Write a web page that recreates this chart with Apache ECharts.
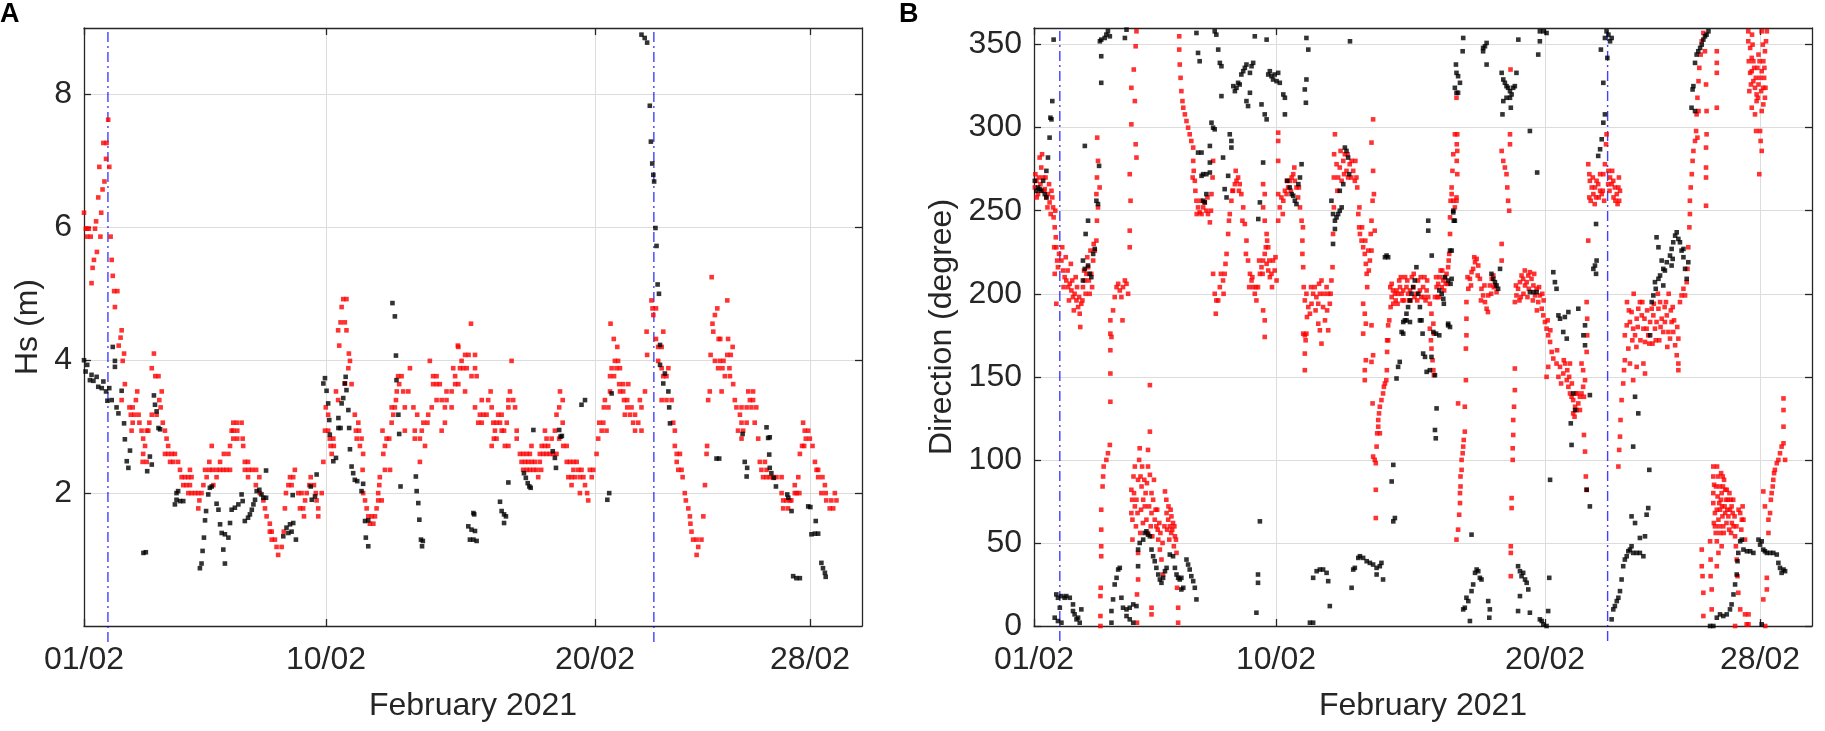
<!DOCTYPE html>
<html><head><meta charset="utf-8">
<script src="https://cdn.jsdelivr.net/npm/echarts@6/dist/echarts.min.js"></script>
<style>html,body{margin:0;padding:0;background:#fff}#c{width:1825px;height:731px}</style>
</head><body><div id="c"></div>
<script>
// x values: days since 01/02/2021 00:00
const dayMax = 28.93;
const tickDays = [0, 9, 19, 27];
const tickLabels = ['01/02', '10/02', '20/02', '28/02'];
const hsTicks = [2, 4, 6, 8];
const dirTicks = [0, 50, 100, 150, 200, 250, 300, 350];
const hsRange = [0, 9];
const dirRange = [0, 360];
const markerDaysA = [0.89, 21.19];
const markerDaysB = [0.96, 21.33];

const hsRed = [[0,6.22],[0.07,5.98],[0.12,5.98],[0.18,5.98],[0.12,5.86],[0.25,5.86],[0.28,5.16],[0.32,5.39],[0.37,5.51],[0.41,5.98],[0.45,6.09],[0.48,5.63],[0.53,6.45],[0.57,6.91],[0.61,5.86],[0.64,6.22],[0.69,6.57],[0.76,6.69],[0.72,7.27],[0.84,7.27],[0.82,7.03],[0.90,7.62],[0.94,6.91],[0.99,5.86],[1.03,5.51],[1.07,5.27],[1.12,5.04],[1.24,5.04],[1.15,4.80],[1.29,4.22],[1.36,4.34],[1.40,4.45],[1.49,4.10],[1.44,3.99],[1.52,3.64],[1.40,3.40],[1.69,3.29],[1.81,3.29],[1.98,3.53],[1.93,3.40],[1.74,3.18],[1.87,3.18],[2.03,3.18],[1.81,3.06],[2.06,3.06],[1.77,2.94],[2.14,2.94],[2.33,2.94],[2.20,2.82],[2.27,2.71],[2.20,2.59],[2.18,2.47],[2.33,2.47],[2.52,3.88],[2.60,4.10],[2.65,3.76],[2.77,3.76],[2.89,3.53],[2.80,3.40],[2.85,3.29],[2.70,3.18],[2.52,3.18],[2.43,3.06],[2.39,2.94],[2.93,3.06],[3.01,2.94],[3.07,2.82],[3.13,2.71],[3.01,2.59],[3.13,2.59],[3.26,2.59],[3.38,2.59],[3.20,2.47],[3.32,2.47],[3.50,2.47],[3.57,2.35],[3.63,2.24],[3.75,2.24],[3.88,2.24],[4.00,2.24],[3.69,2.12],[3.81,2.12],[3.94,2.12],[3.88,2.00],[4.00,2.00],[4.13,2.00],[4.25,2.00],[4.37,2.00],[4.29,1.89],[4.25,1.77],[3.94,2.35],[4.44,2.12],[4.56,2.24],[4.66,2.47],[4.66,2.35],[4.50,2.35],[4.78,2.35],[4.93,2.35],[5.06,2.35],[5.18,2.35],[5.30,2.35],[5.43,2.35],[4.75,2.71],[4.81,2.12],[4.93,2.24],[5.06,2.47],[5.20,2.59],[5.37,2.59],[5.43,2.71],[5.49,2.94],[5.55,3.06],[5.68,3.06],[5.86,3.06],[5.55,2.94],[5.70,2.94],[5.55,2.82],[5.70,2.82],[5.90,2.82],[5.92,2.71],[5.98,2.47],[6.10,2.47],[5.98,2.35],[6.12,2.35],[6.25,2.35],[6.40,2.35],[6.10,2.24],[6.52,2.24],[6.39,2.12],[6.54,2.00],[6.67,1.89],[6.73,1.77],[6.79,1.65],[6.91,1.54],[6.98,1.42],[6.91,1.42],[6.98,1.30],[7.10,1.30],[7.16,1.19],[7.35,1.19],[7.22,1.07],[7.43,1.42],[7.47,1.77],[7.51,2.00],[7.60,2.12],[7.72,2.12],[7.66,2.24],[7.78,2.24],[7.84,2.35],[7.97,2.00],[8.09,2.00],[8.03,1.77],[8.15,1.77],[8.18,1.65],[8.22,1.89],[8.28,2.00],[8.38,2.12],[8.43,2.24],[8.55,2.12],[8.62,2.00],[8.65,1.89],[8.71,1.77],[8.71,1.65],[8.84,2.00],[8.90,2.47],[8.96,2.94],[9.08,2.94],[8.99,3.29],[9.08,3.18],[9.14,2.82],[9.27,2.82],[9.17,2.71],[9.29,2.71],[9.21,2.59],[9.37,3.53],[9.45,3.40],[9.45,4.45],[9.49,4.22],[9.58,4.80],[9.64,4.92],[9.76,4.92],[9.54,4.57],[9.70,4.57],[9.76,4.45],[9.85,4.10],[9.70,3.65],[9.83,3.88],[9.89,3.99],[9.95,3.64],[10.07,3.18],[10.20,3.06],[10.11,2.94],[10.23,2.94],[10.14,2.82],[10.32,2.82],[10.26,2.71],[10.38,2.59],[10.36,2.35],[10.38,2.00],[10.45,1.89],[10.51,1.77],[10.57,1.65],[10.70,1.65],[10.82,1.65],[10.63,1.54],[10.76,1.54],[10.88,1.77],[10.94,1.89],[11.07,1.89],[10.94,2.00],[10.98,2.12],[11.00,2.24],[11.19,2.35],[11.38,2.35],[11.13,2.59],[11.19,2.71],[11.25,2.82],[11.35,2.82],[11.10,2.94],[11.44,3.06],[11.50,3.18],[11.44,3.29],[11.56,3.29],[11.60,3.40],[11.63,3.53],[11.68,3.76],[11.81,3.76],[11.72,3.64],[11.87,3.53],[12.06,3.53],[11.93,3.29],[12.25,3.29],[11.93,2.94],[12.12,3.88],[12.30,2.82],[12.49,2.82],[12.39,3.18],[12.30,2.94],[12.56,2.94],[12.49,2.47],[12.62,3.06],[12.77,3.06],[12.68,2.71],[12.80,3.18],[12.86,3.99],[12.93,3.29],[12.98,3.64],[13.11,3.64],[13.23,3.64],[12.98,3.76],[13.11,3.76],[13.11,3.40],[13.30,3.40],[13.30,2.94],[13.42,3.06],[13.42,3.29],[13.67,3.29],[13.48,3.40],[13.48,3.53],[13.67,3.53],[13.73,3.88],[13.80,3.64],[13.92,3.64],[13.80,3.76],[13.98,3.88],[14.10,3.88],[14.23,3.88],[14.04,3.99],[14.17,3.53],[14.41,3.76],[14.54,3.88],[14.60,3.76],[14.39,4.55],[13.92,4.20],[14.17,4.08],[14.30,4.08],[14.54,4.08],[13.90,4.22],
[14.54,3.29],[14.66,3.06],[14.79,3.06],[14.72,3.18],[14.85,3.18],[14.97,3.18],[14.79,3.40],[15.03,3.40],[15.12,3.53],[15.16,3.29],[15.22,3.06],[15.16,2.71],[15.24,2.82],[15.34,2.82],[15.28,2.94],[15.40,3.18],[15.53,3.18],[15.34,3.06],[15.47,3.06],[15.53,2.94],[15.62,2.94],[15.65,2.71],[15.78,2.71],[15.72,3.06],[15.78,3.29],[15.78,3.40],[15.96,3.40],[15.84,3.53],[15.90,3.99],[16.03,3.29],[16.09,2.94],[16.09,2.82],
[16.21,2.59],[16.33,2.59],[16.46,2.59],[16.58,2.59],[16.27,2.47],[16.40,2.47],[16.52,2.47],[16.65,2.47],[16.77,2.47],[16.95,2.47],[16.33,2.35],[16.46,2.35],[16.58,2.35],[16.71,2.35],[16.83,2.35],[17.00,2.35],[16.64,2.71],[16.89,2.24],[17.02,2.71],[17.14,2.71],[17.26,2.71],[16.95,2.59],[17.08,2.59],[17.20,2.59],[17.32,2.59],[17.45,2.59],[17.57,2.59],[17.14,2.94],[17.20,2.82],[17.39,2.82],[17.51,2.94],[17.57,3.18],[17.67,3.29],[17.70,3.53],[17.80,3.40],[17.80,3.06],[17.67,2.82],[17.82,2.71],[17.95,2.71],[17.95,2.47],[18.07,2.47],[18.20,2.47],[18.32,2.47],[18.20,2.35],[18.38,2.35],[18.01,2.24],[18.13,2.24],[18.26,2.24],[18.13,2.12],[18.44,2.24],[18.57,2.24],[18.50,2.35],[18.44,2.00],[18.63,2.12],[18.71,2.00],[18.75,1.89],[18.81,2.35],[18.94,2.35],[18.88,2.24],[19.06,2.59],[19.12,2.82],[19.16,3.06],[19.31,3.06],[19.25,2.94],[19.43,2.94],[19.33,3.29],[19.50,3.29],[19.37,3.40],[19.56,3.53],[19.56,3.76],[19.71,3.76],[19.62,3.88],[19.74,3.99],[19.86,3.99],[19.80,3.88],[19.93,3.88],[19.90,3.64],[20.05,3.64],[20.24,3.64],[19.93,3.53],[20.05,3.53],[20.08,3.40],[20.20,3.40],[20.20,3.29],[20.36,3.29],[20.11,3.18],[20.30,3.18],[20.49,3.18],[20.42,3.06],[20.61,3.06],[20.49,2.94],[20.73,2.94],[20.67,3.40],[20.73,3.29],[20.86,3.53],
[19.58,4.55],[19.70,4.32],[19.83,4.20],[20.92,4.43],[20.94,4.08],[21.10,4.90],[21.14,4.78],[21.27,4.78],[21.17,4.68],[21.27,4.32],[21.35,4.20],[21.48,4.20],[21.54,4.43],
[21.35,3.99],[21.48,3.88],[21.73,3.88],[21.54,3.76],[21.66,3.76],[21.48,3.40],[21.66,3.40],[21.85,3.40],[21.91,3.06],[21.97,2.94],[21.97,2.71],[22.04,2.59],[22.16,2.59],[22.04,2.47],[22.10,2.35],[22.22,2.35],[22.26,2.24],[22.34,2.00],[22.38,1.89],[22.47,1.77],[22.53,1.65],[22.55,1.54],[22.59,1.42],[22.65,1.30],[22.78,1.30],[22.84,1.19],[22.78,1.07],[22.96,1.30],[23.03,1.65],[23.09,2.12],[23.15,2.59],[23.17,2.71],[23.21,3.40],[23.27,3.53],
[23.46,3.99],[23.64,3.99],[23.78,3.99],[23.58,3.88],[23.74,3.88],[23.71,3.53],[23.83,3.76],[24.02,3.76],[24.00,3.88],[24.14,3.64],[24.20,3.40],[24.26,3.29],[24.45,3.29],[24.39,3.18],[24.32,2.94],[24.51,2.94],[24.45,3.06],[24.64,3.06],[24.45,2.82],[24.70,3.53],[24.88,3.53],[24.64,3.29],[24.82,3.29],[25.00,3.29],[24.76,3.40],[24.88,3.40],[24.94,3.06],[25.07,2.82],[25.13,2.47],[25.32,2.47],[25.19,2.35],[25.38,2.35],[25.25,2.24],[25.38,2.24],[25.50,2.24],[25.63,2.24],[25.75,2.24],[25.94,2.24],[25.94,2.00],[26.00,1.89],[26.12,1.89],[26.25,1.89],[26.00,1.77],[26.18,1.77],[26.30,1.89],[26.43,2.00],[26.43,2.12],[26.50,2.00],[26.60,2.00],[26.56,2.24],[26.62,2.59],[26.70,2.71],[26.78,2.71],[26.74,3.06],[26.80,2.94],[26.93,2.94],[26.84,2.82],[26.99,2.82],[27.09,2.71],[27.18,2.47],[27.24,2.35],[27.30,2.35],[27.30,2.24],[27.46,2.24],[27.55,2.12],[27.42,2.00],[27.58,2.00],[27.60,1.89],[27.79,1.89],[27.98,1.89],[27.73,1.77],[27.86,1.77],[27.92,2.00],
[23.34,5.25],[23.92,4.90],[23.55,4.78],[23.46,4.68],[23.37,4.55],[23.40,4.43],[23.60,4.32],[23.66,4.32],[23.95,4.32],[24.12,4.20],[23.30,4.08],[23.92,4.08],[24.05,4.08]];

const hsBlack = [[0,4.0],[0.06,3.83],[0.12,3.93],[0.22,3.70],[0.28,3.78],[0.35,3.69],[0.47,3.75],[0.53,3.60],[0.66,3.58],[0.72,3.68],[0.82,3.53],[0.87,3.39],[0.94,3.58],[1.07,4.20],[1.15,3.90],[1.15,3.99],[1.03,3.40],[1.21,3.29],[1.28,3.20],[1.40,3.54],[1.49,3.05],[1.52,2.81],[1.71,2.64],[1.59,2.48],[1.65,2.38],[2.21,1.10],[2.30,1.11],[2.35,2.33],[2.45,2.55],[2.52,2.43],[2.60,3.47],[2.64,3.33],[2.70,3.23],[2.77,2.98],[2.83,2.96],[3.38,1.83],[3.44,1.90],[3.57,1.88],[3.69,1.88],[3.44,2.00],[3.50,2.03],[4.31,0.87],[4.37,0.94],[4.41,1.13],[4.46,1.33],[4.50,1.59],[4.54,1.73],[4.62,1.98],[4.68,2.08],[4.75,2.10],[4.93,1.84],[5.00,1.75],[5.06,1.53],[5.12,1.40],[5.24,1.38],[5.37,1.33],[5.18,1.15],[5.24,0.94],[5.43,1.55],[5.49,1.75],[5.61,1.78],[5.74,1.83],[5.86,1.98],[5.90,1.88],[5.98,1.58],[6.10,1.63],[6.17,1.68],[6.24,1.75],[6.30,1.83],[6.36,1.90],[6.42,2.03],[6.52,2.05],[6.60,1.98],[6.67,1.93],[6.77,1.93],[6.77,2.34],[7.41,1.35],[7.53,1.48],[7.66,1.53],[7.78,1.55],[7.60,1.40],[7.72,1.42],[7.76,1.97],[7.88,1.30],[8.43,2.10],[8.47,1.90],[8.59,1.95],[8.65,2.28],[8.90,3.65],[8.96,3.73],[9.02,3.54],[9.08,3.35],[9.12,3.10],[9.14,2.88],[9.27,2.48],[9.37,2.53],[9.46,3.13],[9.46,2.98],[9.54,2.98],[9.58,3.35],[9.64,3.43],[9.70,3.65],[9.76,3.55],[9.73,3.75],[9.83,3.25],[9.86,2.98],[9.89,2.66],[9.95,2.40],[10.01,2.30],[10.07,2.20],[10.16,2.18],[10.32,2.03],[10.38,2.14],[10.45,1.58],[10.57,1.59],[10.48,1.33],[10.57,1.20],[11.47,4.86],[11.56,4.66],[11.60,4.07],[11.62,3.70],[11.69,3.18],[11.72,2.89],[11.77,2.10],[12.34,2.25],[12.37,2.03],[12.43,1.85],[12.47,1.60],[12.53,1.30],[12.60,1.28],[12.57,1.20],[14.29,1.50],[14.41,1.45],[14.54,1.43],[14.35,1.30],[14.48,1.30],[14.60,1.28],[14.48,1.70],[14.51,1.68],[15.47,1.87],[15.53,1.73],[15.62,1.68],[15.69,1.65],[15.62,1.55],[15.78,2.16],[16.36,2.30],[16.43,2.23],[16.50,2.15],[16.56,2.10],[16.61,2.08],[16.71,2.95],[17.43,2.63],[17.51,2.53],[17.55,2.38],[17.67,2.95],[17.72,2.85],[17.77,2.86],[18.50,3.33],[18.63,3.40],[19.46,1.90],[19.53,2.00],[19.62,3.50],[20.73,8.90],[20.85,8.85],[20.94,8.78],[21.04,7.83],[21.08,7.29],[21.13,6.96],[21.17,6.79],[21.20,6.69],[21.25,5.99],[21.29,5.72],[21.33,5.14],[21.38,5.00],[21.42,4.23],[21.42,3.93],[21.60,3.80],[21.54,3.65],[21.73,3.53],[21.76,3.29],[21.79,3.05],[23.52,2.52],[23.62,2.52],[24.49,2.89],[24.57,2.47],[24.66,2.38],[24.64,2.25],[25.38,2.99],[25.44,2.83],[25.50,2.84],[25.48,2.58],[25.50,2.38],[25.56,2.30],[25.65,2.23],[25.73,2.10],[26.15,1.98],[26.19,1.93],[26.31,1.73],[26.37,0.75],[26.49,0.72],[26.62,0.72],[26.93,1.80],[27.01,1.79],[27.05,1.38],[27.18,1.39],[27.30,1.39],[27.21,1.58],[27.42,0.95],[27.48,0.87],[27.55,0.80],[27.58,0.74]];

const dirRed = [[0.03,264],[0.09,268],[0.15,260],[0.21,282],[0.27,276],[0.34,270],[0.40,263],[0.46,258],[0.52,260],[0.58,255],[0.65,262],[0.71,252],[0.73,246],[0.77,240],[0.81,234],[0.83,228],[0.86,220],[0.77,212],[0.83,194],[0.89,216],[0.93,224],[1.02,220],[1.08,214],[1.14,210],[1.20,208],[1.27,204],[1.33,206],[1.39,202],[1.45,198],[1.51,200],[1.58,196],[1.64,192],[1.70,188],[1.76,194],[1.82,204],[1.89,208],[1.95,212],[2.01,216],[2.07,200],[2.13,212],[2.20,220],[2.26,226],[2.32,232],[2.34,244],[2.38,252],[2.32,260],[2.34,270],[2.38,280],[2.35,294],[2.44,264],
[0.05,272],[0.10,258],[0.18,270],[0.24,266],[0.30,284],[0.36,262],[0.43,270],[0.50,252],[0.56,266],[0.62,248],[0.68,258],[0.75,228],[0.79,250],
[1.05,228],[1.10,204],[1.18,222],[1.25,214],[1.30,196],[1.37,218],[1.42,208],[1.48,190],[1.55,210],[1.60,204],[1.68,198],[1.72,180],[1.80,196],[1.86,214],[1.92,200],[1.98,222],[2.04,208],[2.10,226],[2.16,204],[2.22,230],
[2.47,0],[2.47,6],[2.47,18],[2.48,23],[2.50,42],[2.50,48],[2.50,58],[2.50,70],[2.55,84],[2.57,90],[2.59,96],[2.69,100],[2.75,104],[2.82,109],[2.84,135],[2.84,152],[2.84,166],[2.84,176],[2.84,184],
[2.88,174],[2.94,190],[3.00,198],[3.07,204],[3.13,206],[3.19,202],[3.25,198],[3.31,204],[3.38,208],[3.44,206],[3.50,200],[3.56,228],[3.56,238],[3.59,256],[3.56,272],[3.62,302],[3.62,324],[3.71,335],[3.78,349],[3.81,358],[3.75,316],[3.78,290],[3.81,282],[3.29,184],
[3.62,82],[3.62,68],[3.66,64],[3.75,72],[3.81,76],[3.87,88],[3.91,100],[3.93,107],[3.87,44],[3.87,28],[3.83,19],[3.83,2],[3.96,90],[4.00,84],[4.06,76],[4.12,72],[4.18,64],[4.24,56],[4.31,145],[4.31,117],[4.24,106],[4.24,96],[4.31,91],[4.37,80],[4.37,68],[4.43,76],[4.49,64],[4.55,60],[4.62,52],[4.68,46],[4.74,40],[4.80,31],[4.87,81],[4.93,68],[4.99,64],[5.05,60],[5.11,66],[5.17,62],[5.24,54],[5.30,44],[5.32,23],[5.36,11],[5.36,2],[4.37,11],[4.37,7],
[3.70,90],[3.75,96],[3.79,60],[3.66,52],[3.95,56],[4.02,96],[4.10,88],[4.15,80],[4.28,72],[4.46,88],[4.58,70],[4.66,62],[4.92,76],[5.00,72],[5.08,70],[5.14,58],[5.20,48],
[3.65,76],[3.72,80],[3.85,68],[3.98,70],[4.05,62],[4.20,86],[4.34,60],[4.40,54],[4.52,70],[4.60,58],[4.70,56],[4.78,50],[4.85,60],[4.95,58],[5.03,52],[5.10,56],[5.22,60],[5.28,52],
[5.40,355],[5.40,347],[5.42,338],[5.45,330],[5.48,322],[5.52,316],[5.55,312],[5.61,308],[5.67,304],[5.73,300],[5.79,296],[5.85,292],[5.92,288],[5.92,280],[5.94,274],[5.98,268],[6.00,262],[6.04,256],[6.10,252],[6.16,249],[6.23,248],[6.29,252],[6.35,255],[6.41,250],[6.47,248],[6.54,243],[6.60,260],[6.64,270],[6.66,280],[6.66,212],[6.72,200],[6.76,188],[6.78,196],[6.91,204],[7.03,208],[7.09,212],[7.16,224],[7.22,236],[7.28,248],[7.34,256],[7.40,262],[7.47,266],[7.53,268],[7.59,270],[7.65,266],[7.71,260],[7.78,252],[7.84,242],[7.90,232],[7.96,220],[8.03,212],[8.09,208],[8.15,204],[8.21,200],[8.27,196],[8.33,204],[8.40,212],[8.46,216],[8.52,220],[8.58,224],[8.65,218],[8.71,214],[8.77,210],[8.83,212],[8.89,220],[8.95,214],[9.02,208],[9.08,244],[9.08,260],[9.08,280],[9.08,292],[9.08,297],[9.14,252],[9.20,258],[9.27,256],[9.33,262],[9.39,260],[9.45,264],[9.51,268],[9.58,270],[9.64,272],[9.70,268],[9.76,264],[9.82,258],[9.89,252],[9.95,244],[9.98,232],[9.98,224],[10.01,216],[10.03,204],[10.07,196],[10.13,200],[10.20,192],[10.26,188],[10.32,194],[10.38,200],[10.44,204],[10.50,198],[10.57,194],[10.63,200],[10.69,208],[10.75,192],[10.82,184],[10.88,204],[10.94,200],[11.00,194],[11.06,208],[11.10,216],[11.12,236],[11.15,252],[11.15,270],[11.16,284],[11.19,296],[11.25,278],[11.31,270],[11.37,276],[11.44,268],[11.50,280],[11.56,284],[11.62,274],[11.68,270],[11.74,278],[11.81,280],[11.87,274],[11.93,268],[11.99,270],[12.02,264],[12.06,248],[12.09,240],[12.12,236],[12.18,232],[12.24,228],[12.30,224],[12.34,218],[12.37,212],[12.39,204],[12.43,226],[12.49,220],[12.55,226],[12.55,244],[12.59,256],[12.55,291],[12.61,305],[12.61,274],[12.64,260],[12.67,238],[12.24,194],[12.30,188],[12.34,182],[12.24,176],
[5.90,270],[6.05,248],[6.20,256],[6.45,258],[6.58,250],
[6.85,196],[6.95,212],[7.05,200],[7.12,218],[7.25,244],[7.38,262],[7.50,274],[7.62,262],[7.75,244],[7.88,224],[8.00,204],[8.12,210],[8.25,204],[8.37,220],[8.50,212],[8.62,228],[8.75,220],[8.85,204],[8.98,222],
[9.25,248],[9.40,268],[9.55,262],[9.68,276],[9.85,264],[10.00,240],[10.15,186],[10.30,204],[10.47,190],[10.60,206],[10.78,200],[10.90,190],[11.03,200],
[11.28,262],[11.40,286],[11.53,272],[11.66,284],[11.80,270],[11.95,280],[12.10,252],[12.20,240],[12.32,232],[12.45,214],[12.52,236],
[8.52,266],[8.58,260],[8.52,252],[8.58,244],[8.65,236],[8.67,232],[8.71,228],[8.58,184],[8.58,174],[8.52,190],
[10.07,175],[10.07,164],[10.07,154],[10.13,176],[10.57,182],[10.69,170],[10.94,178],[10.01,176],[10.10,172],[10.63,178],
[12.30,148],[12.30,154],[12.34,160],[12.55,181],[12.61,163],[12.55,159],[12.59,134],[12.61,102],[12.67,100],[12.71,98],[12.71,82],[12.71,65],[12.74,108],[12.76,116],[12.80,124],[12.83,128],[12.86,132],[12.92,136],[12.98,140],[13.01,144],[13.05,146],[13.10,148],[13.12,154],[13.13,165],[13.13,172],[13.17,181],[12.80,120],[12.86,116],
[13.17,172],[13.21,184],[13.26,192],[13.30,198],[13.36,194],[13.42,200],[13.48,202],[13.54,200],[13.61,204],[13.67,200],[13.73,202],[13.85,204],[13.91,200],[13.98,202],[14.10,204],[14.22,200],[14.35,202],[14.47,204],[14.60,202],[14.66,198],[14.72,194],[14.78,188],[14.85,182],[14.87,176],[14.91,198],[14.97,204],[15.03,206],[15.09,210],[15.16,204],[15.22,208],[15.28,210],[15.34,212],[15.40,216],[15.44,224],[15.47,236],[15.47,246],[15.49,256],[15.53,264],[15.56,274],[15.59,284],[15.65,296],[15.71,318],[15.71,256],
[14.72,179],[14.76,172],[14.78,167],[14.82,160],[14.85,154],[14.87,151],
[13.30,206],[13.45,196],[13.58,208],[13.70,196],[13.80,210],[13.95,196],[14.05,210],[14.15,198],[14.28,208],[14.40,198],[14.52,210],[14.56,196],[15.00,198],[15.12,214],[15.25,202],[15.38,206],
[13.25,204],[13.35,202],[13.52,194],[13.64,210],[13.76,196],[13.88,208],[14.00,196],[14.12,212],[14.25,196],[14.38,210],[14.50,198],[14.62,208],[14.95,210],[15.06,198],[15.18,214],[15.31,206],[15.42,220],
[15.71,52],[15.77,58],[15.81,67],[15.84,74],[15.84,80],[15.86,84],[15.86,90],[15.90,94],[15.90,100],[15.94,104],[15.96,108],[15.98,112],[16.02,117],[16.02,132],[16.06,148],[15.77,134],
[15.53,260],[15.59,256],[15.65,252],[15.71,258],[15.74,272],[15.74,286],[15.74,296],[15.72,290],[15.72,280],
[16.08,195],[16.15,203],[16.21,209],[16.27,213],[16.33,215],[16.40,219],[16.46,221],[16.52,217],[16.58,209],[16.64,203],[16.70,199],[16.77,195],[16.83,191],[16.89,199],[16.95,205],[17.02,209],[17.08,211],[17.14,205],[17.20,201],[16.08,185],[16.08,175],[16.06,167],
[16.12,210],[16.25,205],[16.37,222],[16.50,211],[16.62,196],[16.75,205],[16.88,189],[17.00,200],[17.10,204],
[17.39,286],[17.45,280],[17.51,276],[17.57,272],[17.60,264],[17.63,256],[17.67,250],[17.70,296],[17.70,290],[17.72,335],[17.39,230],[17.39,220],
[17.88,155],[17.88,142],[17.85,132],[17.82,124],[17.82,115],[17.80,107],[17.80,100],[17.76,77],[17.76,71],[17.73,48],[17.73,44],[17.73,30],
[17.88,195],[17.94,199],[18.00,203],[18.07,207],[18.13,211],[18.19,209],[18.26,205],[18.32,207],[18.38,211],[18.44,213],[18.50,209],[18.57,205],[18.63,199],[18.69,203],[18.75,195],[18.81,199],[18.88,191],[18.94,187],[19.00,183],[19.06,179],[19.12,175],[19.19,171],[19.25,165],[19.31,161],
[18.05,196],[18.20,200],[18.35,198],[18.55,196],[18.70,190],[18.90,200],
[17.92,205],[18.10,198],[18.25,214],[18.40,203],[18.60,212],[18.78,204],[18.95,196],[19.10,184],[19.20,178],
[19.43,158],[19.56,156],[19.68,152],[19.81,148],[19.87,144],[19.93,140],[19.99,138],[20.05,136],[20.12,132],[20.18,130],[20.24,134],[20.30,138],[20.36,140],[20.42,144],[20.49,148],[20.42,154],[20.36,158],[20.45,115],[20.49,105],[20.52,90],[20.55,82],[19.12,156],[19.06,150],[19.83,154],[19.93,158],
[19.50,150],[19.70,160],[20.00,146],[20.20,140],[20.10,126],
[19.45,166],[19.60,146],[19.75,158],[19.90,150],[20.05,128],[20.15,140],[20.30,130],[20.45,138],
[20.55,195],[20.57,185],[20.57,175],[20.55,165],[20.61,232],[20.61,278],[20.65,272],[20.67,268],[20.74,264],[20.80,260],[20.86,264],[20.92,268],[20.98,266],[21.05,262],[21.11,260],[21.17,272],[21.23,278],[21.27,290],[21.29,296],[21.36,274],[21.42,270],[21.48,266],[21.54,268],[21.60,264],[21.67,260],[21.73,264],[21.79,262],
[20.70,256],[20.85,254],[21.00,258],[21.15,262],[21.40,262],[21.55,258],[21.70,254],[21.76,256],
[20.65,258],[20.78,270],[20.90,258],[21.05,272],[21.20,256],[21.35,266],[21.50,274],[21.62,256],[21.75,270],
[21.73,96],[21.76,106],[21.79,114],[21.81,124],[21.85,136],[21.91,146],[21.94,154],[21.97,160],[22.16,158],[22.28,148],[22.41,156],[22.66,158],[22.72,152],[23.96,154],[23.96,158],
[21.97,175],[22.04,181],[22.10,167],[22.16,183],[22.22,189],[22.28,179],[22.35,175],[22.41,185],[22.47,191],[22.53,195],[22.60,187],[22.66,179],[22.72,171],[22.78,179],[22.84,175],[22.91,183],[22.97,191],[23.03,187],[23.09,179],[23.15,183],[23.22,191],[23.28,195],[23.34,185],[23.40,177],[23.46,183],[23.53,187],[23.59,177],[23.65,173],[23.71,183],[23.77,177],[23.84,169],[23.90,163],[23.96,173],[24.02,195],[24.08,199],[24.15,203],[24.21,199],[24.27,207],[24.30,215],[24.33,228],[24.37,240],[24.39,248],[24.39,256],[24.42,264],[24.46,272],[24.49,280],[24.52,286],[24.58,292],[24.62,298],[24.64,308],[24.67,318],[24.71,328],[24.74,336],[24.79,344],[24.83,352],[24.89,357],[24.95,346],[24.99,326],[25.01,310],[25.01,296],[24.99,288],[24.99,276],[24.99,270],[24.99,253],[25.39,346],[25.39,339],[25.39,333],[25.39,312],[24.67,294],[24.71,310],
[22.05,195],[22.30,200],[22.55,172],[22.80,190],[23.00,170],[23.25,172],[23.50,195],[23.75,192],[23.20,200],[22.40,168],[23.60,200],
[22.12,190],[22.25,172],[22.45,180],[22.62,195],[22.70,185],[22.88,170],[23.05,194],[23.12,172],[23.30,180],[23.45,192],[23.55,168],[23.68,190],[23.80,184],[23.92,180],
[26.56,358],[26.56,352],[26.63,348],[26.69,342],[26.69,334],[26.75,328],[26.81,324],[26.87,320],[26.94,326],[27.00,330],[27.06,334],[27.12,340],[27.18,346],[27.22,352],[27.25,358],[27.06,358],[27.12,324],[27.18,318],[27.12,314],[27.06,310],[27.00,298],[27.02,292],[27.06,286],[26.97,272],[26.69,312],[26.81,308],[26.87,316],[26.63,333],[26.75,340],[26.94,344],
[26.60,322],[26.72,350],[26.90,336],[27.15,330],[26.85,298],
[26.58,340],[26.66,326],[26.70,356],[26.78,336],[26.84,330],[26.92,318],[26.98,340],[27.04,322],[27.10,350],[27.16,336],[27.20,324],
[24.83,46],[24.83,36],[24.86,30],[24.89,20],[24.89,6],[25.14,51],[25.16,40],[25.16,30],[25.20,22],[25.20,10],[25.26,96],[25.26,90],[25.29,85],[25.26,80],[25.26,74],[25.32,68],[25.32,60],[25.39,70],[25.45,64],[25.48,60],[25.51,70],[25.54,76],[25.57,80],[25.61,90],[25.66,88],[25.70,82],[25.73,76],[25.78,70],[25.82,66],[25.86,80],[25.91,76],[25.94,72],[25.98,68],[26.01,60],[26.07,54],[26.10,48],[26.13,40],[26.16,30],[26.19,20],[26.26,10],[26.26,68],[26.32,64],[26.35,72],[26.38,64],[26.44,52],[25.39,51],[25.45,44],[25.39,36],[25.63,60],[25.57,48],[26.07,0],[26.57,7],[26.57,1],[27.19,0],[27.12,16],[27.25,22],[27.25,29],[27.12,81],[27.18,72],[27.31,64],[27.31,56],[27.37,68],[27.40,76],[27.43,80],[27.47,84],[27.49,88],[27.52,92],[27.55,94],[27.62,98],[27.68,100],[27.74,104],[27.80,108],[27.87,110],[27.87,120],[27.87,130],[27.87,137],[27.93,100],[26.44,7],[26.50,1],
[25.35,56],[25.42,78],[25.50,84],[25.60,66],[25.68,72],[25.75,62],[25.85,58],[25.95,62],[25.65,56],[25.55,92],
[25.28,62],[25.36,84],[25.44,90],[25.52,56],[25.58,72],[25.62,84],[25.70,68],[25.76,82],[25.80,76],[25.88,70],[25.92,56],[26.00,76],[26.05,66],[26.12,60],[26.20,70],[26.30,58],[25.40,96],[25.48,74]];

const dirBlack = [[0.03,268],[0.09,262],[0.15,264],[0.21,263],[0.27,262],[0.34,268],[0.40,260],[0.46,258],[0.46,274],[0.52,282],[0.58,294],[0.61,306],[0.65,305],[0.68,316],[0.73,353],
[1.89,289],[2.01,244],[1.92,236],[1.82,220],[1.89,215],[2.01,217],[2.07,212],[2.13,210],[2.20,224],[2.26,227],[2.32,256],[2.38,254],[2.42,277],[2.50,343],[2.50,327],[2.45,352],[2.50,353],[2.63,354],[2.69,356],[2.75,358],[2.82,355],[3.38,354],[3.44,359],[1.82,208],
[6.04,357],[6.10,345],[6.16,340],[6.72,358],[6.78,356],[6.85,347],[6.91,339],[6.97,337],[6.97,319],[6.60,303],[6.66,300],[6.72,299],[7.28,296],[7.34,292],[7.34,288],[6.23,285],[6.54,289],[6.29,272],[6.41,272],[6.54,273],[6.54,279],[6.41,260],[6.29,256],[6.35,255],[7.03,282],[7.22,271],[7.09,263],[7.16,258],
[7.41,325],[7.47,322],[7.53,324],[7.59,327],[7.65,326],[7.78,334],[7.84,336],[7.90,338],[8.03,333],[8.09,337],[8.15,339],[7.71,332],[7.90,316],[7.96,313],[8.03,321],[8.21,355],[8.46,314],[8.58,308],[8.65,305],[8.65,353],[8.71,332],[8.77,334],[8.83,331],[8.89,329],[8.95,332],[9.02,328],[9.08,333],[9.14,327],[9.27,320],[9.33,318],[9.33,308],[10.13,354],[10.20,347],[10.13,329],[10.07,323],[10.11,315],[11.75,352],
[6.10,285],[6.23,271],[8.52,279],[8.40,255],[8.34,245],
[9.42,268],[9.51,264],[9.64,259],[9.70,256],[9.76,254],[9.58,260],[9.83,266],[9.89,270],[9.95,278],
[11.06,256],[11.12,248],[11.19,244],[11.25,246],[11.31,248],[11.37,250],[11.44,252],[11.19,239],[11.12,230],[11.37,262],[11.50,266],[11.56,288],[11.62,286],[11.68,282],[11.72,272],
[13.05,222],[13.11,223],[13.17,222],
[14.22,216],[14.16,208],[14.10,204],[14.04,200],[13.98,196],[13.91,192],[13.85,188],[13.79,184],[13.73,176],[14.29,200],[14.35,192],[14.41,184],[14.45,176],
[14.66,244],[14.66,238],[14.79,223],[15.07,202],[15.16,200],[15.22,197],[15.24,194],[15.28,210],[15.40,208],[15.49,206],[15.53,226],[15.59,249],[15.65,244],[15.69,338],[15.71,333],[15.71,321],[15.07,175],[15.40,181],
[0.83,19],[0.89,17],[1.02,18],[1.14,17],[1.20,18],[1.33,17],[0.77,5],[0.89,3],[1.02,2],[0.96,11],[1.45,9],[1.51,7],[1.58,4],[1.64,5],[1.70,2],[1.45,13],[1.76,10],[2.88,2],[2.88,9],[2.94,16],[3.00,25],[3.07,29],[3.13,34],[3.19,35],[3.25,17],[3.31,11],[3.44,10],[3.56,11],[3.69,13],[3.81,12],[3.44,6],[3.56,4],[3.69,2],[3.87,36],[3.87,46],[3.93,50],[4.06,52],[4.12,56],[4.18,57],[4.24,55],[4.31,54],[4.37,46],[4.43,42],[4.49,39],[4.55,35],[4.62,31],[4.68,28],[4.74,26],[4.80,29],[4.87,33],[4.93,35],[5.05,43],[5.17,42],[5.24,35],[5.30,31],[5.36,29],[5.42,28],[5.48,29],[5.55,23],[5.67,40],[5.73,37],[5.79,34],[5.85,30],[5.92,27],[5.98,23],[6.04,16],[5.48,22],
[8.40,63],[8.33,31],[8.33,26],[8.27,8],[10.26,2],[10.38,2],[10.38,29],[10.51,33],[10.63,34],[10.75,34],[10.88,32],[10.94,27],[11.00,12],[11.81,23],[11.87,34],[11.93,35],[12.06,41],[12.12,42],[12.24,41],[12.37,39],[12.49,38],[12.61,37],[12.74,35],[12.86,36],[12.92,38],[12.74,31],[12.98,28],
[13.30,87],[13.36,97],[13.36,63],[13.42,65],[13.48,149],[13.54,156],[13.60,159],[13.67,177],[13.73,183],[13.85,184],[13.98,183],[14.35,184],[14.47,164],[14.54,162],[14.60,153],[14.72,154],[14.78,162],[14.85,177],[14.91,151],[14.97,131],[14.91,118],[14.94,113],[15.40,182],[14.95,176],
[15.47,226],[15.53,209],[15.59,250],[15.61,244],[15.65,324],[15.77,331],[15.84,327],[15.77,321],[15.96,354],[15.94,346],[15.47,180],
[16.70,348],[16.77,349],[16.83,351],[16.70,346],[16.83,338],[17.39,333],[17.45,329],[17.51,327],[17.57,325],[17.63,324],[17.70,322],[17.76,320],[17.82,324],[17.88,325],[17.45,316],[17.57,318],[17.70,318],[17.42,308],[17.73,312],[17.94,333],[18.01,353],[18.44,298],[18.71,273],[18.75,344],[18.81,352],[18.81,358],[18.94,358],[19.06,357],
[17.08,209],[17.14,207],[17.20,205],[17.26,203],[17.01,212],[17.33,215],[18.44,201],[18.57,201],[18.69,201],[19.31,213],[19.37,207],[19.43,203],[19.50,187],[19.56,185],[19.74,186],[19.87,189],[19.68,177],[19.81,173],[20.24,191],[20.49,181],[20.43,175],[20.49,169],
[20.80,215],[20.86,217],[20.90,212],[20.92,220],[20.90,242],[20.98,283],[21.05,287],[21.11,293],[21.17,303],[21.23,308],[21.17,327],[21.23,354],[21.29,358],[21.36,356],[21.42,352],[21.48,354],[21.08,347],[21.32,342],
[22.91,175],[22.97,195],[23.03,199],[23.09,207],[23.22,209],[23.28,211],[23.40,215],[23.53,219],[23.65,223],[23.71,227],[23.77,231],[23.84,235],[23.90,237],[23.96,233],[24.02,231],[24.15,227],[24.21,215],[24.27,209],[24.33,219],[23.15,234],[23.22,228],[23.34,220],[23.46,214],[23.12,203],[23.40,205],[23.71,217],[23.75,221],[24.08,226],[24.15,222],[24.45,312],[24.49,323],[24.58,339],[24.64,344],[24.70,346],[24.77,348],[24.83,350],[24.89,353],[24.95,355],[25.01,356],[25.08,358],[24.52,325],[24.58,310],
[15.96,10],[16.02,11],[16.08,17],[16.15,15],[16.21,3],[16.27,21],[16.33,25],[16.40,32],[16.46,34],[16.52,33],[16.58,29],[16.64,28],[16.89,15],[16.95,10],[16.93,5],[16.27,55],[18.00,36],[18.07,33],[18.13,30],[18.19,32],[18.26,28],[18.32,26],[18.38,22],[18.07,18],[18.00,9],[18.44,8],[18.81,4],[18.88,3],[18.94,1],[19.06,0],[19.12,9],[19.16,29],[19.19,88],[20.05,140],[20.12,130],[19.96,122],[19.99,109],[20.55,82],[20.67,72],[20.67,139],
[21.48,4],[21.54,10],[21.60,12],[21.67,15],[21.73,17],[21.79,21],[21.85,28],[21.91,36],[21.97,40],[22.04,42],[22.10,45],[22.16,46],[22.22,48],[22.28,44],[22.41,44],[22.53,44],[22.66,42],[22.22,66],[22.35,62],[22.53,53],[22.72,54],[22.78,67],[22.84,71],[22.28,108],[22.35,138],[22.47,128],[22.88,94],
[25.14,0],[25.26,0],[25.39,5],[25.51,7],[25.63,6],[25.76,7],[25.88,10],[25.94,13],[26.01,19],[26.07,25],[26.13,31],[26.16,39],[26.19,44],[26.26,51],[26.32,52],[26.38,46],[26.51,45],[26.63,45],[26.75,44],[26.94,52],[27.00,49],[27.06,51],[27.12,46],[27.18,45],[27.25,44],[27.37,44],[27.49,44],[27.62,43],[27.68,38],[27.74,35],[27.80,32],[27.87,34],[27.93,33],[27.06,1]];

const FONT = '"Liberation Sans", Arial, Helvetica, sans-serif';
const AX = '#262626';
const GRID = '#dcdcdc';

function fmtDay(v) {
  const i = tickDays.findIndex(t => Math.abs(t - v) < 1e-6);
  return i >= 0 ? tickLabels[i] : '';
}
function xMain(gi) {
  return {
    type: 'value', gridIndex: gi, min: 0, max: dayMax, position: 'bottom',
    name: 'February 2021', nameLocation: 'middle', nameGap: 64,
    nameTextStyle: { fontSize: 32, color: AX, fontFamily: FONT },
    axisLine: { show: true, onZero: false, lineStyle: { color: AX, width: 1.3 } },
    axisTick: { show: true, inside: true, length: 7, customValues: tickDays, lineStyle: { color: AX, width: 1.3 } },
    axisLabel: { show: true, customValues: tickDays, formatter: fmtDay, fontSize: 32, color: AX, fontFamily: FONT, margin: 18 },
    splitLine: { show: true, lineStyle: { color: GRID, width: 1 } }
  };
}
function xTop(gi) {
  return {
    type: 'value', gridIndex: gi, min: 0, max: dayMax, position: 'top',
    axisLine: { show: true, onZero: false, lineStyle: { color: AX, width: 1.3 } },
    axisTick: { show: true, inside: true, length: 7, customValues: tickDays, lineStyle: { color: AX, width: 1.3 } },
    axisLabel: { show: false }, splitLine: { show: false }
  };
}
function yMain(gi, range, ticks, name, gap) {
  return {
    type: 'value', gridIndex: gi, min: range[0], max: range[1], position: 'left',
    name: name, nameLocation: 'middle', nameGap: gap, nameRotate: 90,
    nameTextStyle: { fontSize: 32, color: AX, fontFamily: FONT },
    axisLine: { show: true, onZero: false, lineStyle: { color: AX, width: 1.3 } },
    axisTick: { show: true, inside: true, length: 7, customValues: ticks, lineStyle: { color: AX, width: 1.3 } },
    axisLabel: { show: true, customValues: ticks, fontSize: 32, color: AX, fontFamily: FONT, margin: 12 },
    splitLine: { show: true, lineStyle: { color: GRID, width: 1 } }
  };
}
function yRight(gi, range, ticks) {
  return {
    type: 'value', gridIndex: gi, min: range[0], max: range[1], position: 'right',
    axisLine: { show: true, onZero: false, lineStyle: { color: AX, width: 1.3 } },
    axisTick: { show: true, inside: true, length: 7, customValues: ticks, lineStyle: { color: AX, width: 1.3 } },
    axisLabel: { show: false }, splitLine: { show: false }
  };
}
function scatter(xi, yi, data, color) {
  return { type: 'scatter', xAxisIndex: xi, yAxisIndex: yi, data: data, symbol: 'rect', symbolSize: 4.6,
    itemStyle: { color: color }, silent: true, animation: false };
}
function vline(xi, yi, d, lo, hi) {
  return { type: 'line', xAxisIndex: xi, yAxisIndex: yi, data: [[d, lo], [d, hi]], symbol: 'none', clip: false,
    silent: true, animation: false, z: 1,
    lineStyle: { color: 'rgba(0,0,255,0.75)', width: 1.4, type: [10, 4, 2, 4] } };
}

const hsBelow = -0.24, dirBelow = -9;
const series = [
  scatter(0, 0, hsRed, '#ff0000'),
  scatter(0, 0, hsBlack, '#000000'),
  scatter(2, 2, dirRed, '#ff0000'),
  scatter(2, 2, dirBlack, '#000000')
];
markerDaysA.forEach(d => series.push(vline(0, 0, d, hsBelow, hsRange[1])));
markerDaysB.forEach(d => series.push(vline(2, 2, d, dirBelow, dirRange[1])));

const chart = echarts.init(document.getElementById('c'), null, { renderer: 'canvas' });
chart.setOption({
  animation: false,
  backgroundColor: '#ffffff',
  grid: [
    { left: 84, top: 28, width: 778, height: 598 },
    { left: 1034, top: 28, width: 778, height: 598 }
  ],
  xAxis: [xMain(0), xTop(0), xMain(1), xTop(1)],
  yAxis: [yMain(0, hsRange, hsTicks, 'Hs (m)', 40), yRight(0, hsRange, hsTicks),
          yMain(1, dirRange, dirTicks, 'Direction (degree)', 76), yRight(1, dirRange, dirTicks)],
  graphic: [
    { type: 'text', left: 0, top: 1, style: { text: 'A', font: 'bold 27px ' + FONT, fill: '#000' } },
    { type: 'text', left: 899, top: 1, style: { text: 'B', font: 'bold 27px ' + FONT, fill: '#000' } }
  ],
  series: series
});
</script></body></html>
